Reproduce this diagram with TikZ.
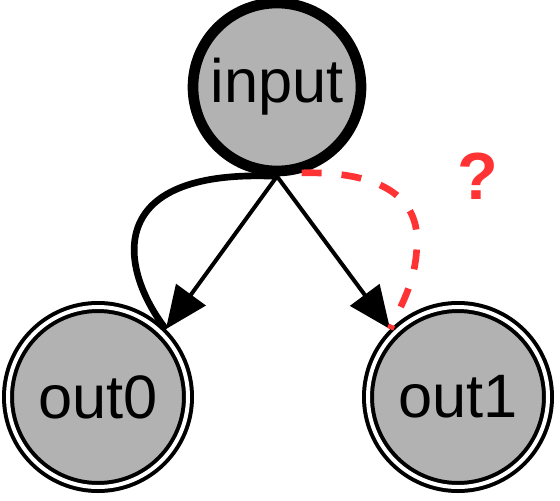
\documentclass[tikz,border=0pt]{standalone}
\usepackage{fontspec}
\setmainfont{Liberation Sans}
\usetikzlibrary{arrows.meta}
\definecolor{qred}{RGB}{255,51,51}
\begin{document}
\begin{tikzpicture}[x=0.75pt, y=-0.75pt,
    every node/.style={font=\fontsize{46}{54}\selectfont},
    innode/.style={circle, draw, fill=black!30, line width=8pt, minimum size=126pt, inner sep=0pt},
    outnode/.style={circle, draw, double, double distance=3pt, line width=3pt, fill=black!30, minimum size=135pt, inner sep=0pt, outer sep=4.5pt}]
    \useasboundingbox (0,0) rectangle (560,500);
    \node[innode] (input) at (277,87) {input};
    \node[outnode] (out0) at (98,397) {out0};
    \node[outnode] (out1) at (458,397) {out1};
    \draw[line width=3pt, -{Triangle[length=32pt,width=27pt]}] (input.south) -- (out0.45);
    \draw[line width=3pt, -{Triangle[length=32pt,width=27pt]}] (input.south) -- (out1.135);
    \draw[line width=5pt] (input.south) .. controls (100,168) and (120,270) .. (out0.45);
    \draw[qred, line width=5pt, dash pattern=on 15pt off 15pt]
        (input.-74) .. controls (385,171) and (417,200) .. (417,240)
        .. controls (417,280) and (402,303) .. (out1.135);
    \node[qred, font=\fontsize{50}{54}\selectfont\bfseries] (q) at (478,176) {?};
\end{tikzpicture}
\end{document}
